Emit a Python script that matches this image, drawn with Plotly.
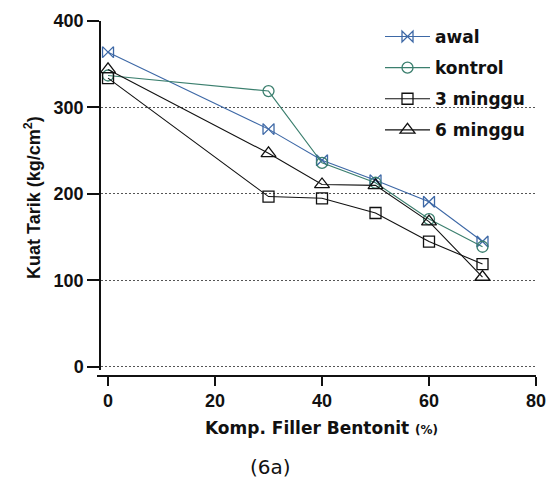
import plotly.graph_objects as go

# Bentonite filler composition (%)
filler = [0, 30, 40, 50, 60, 70]

# Tensile strength (kg/cm^2) per curing stage
awal = [364, 275, 239, 216, 191, 145]
kontrol = [337, 319, 236, 213, 171, 139]
minggu3 = [334, 197, 195, 178, 145, 119]
minggu6 = [344, 247, 211, 210, 168, 104]

series_names = ["awal", "kontrol", "3 minggu", "6 minggu"]
x_ticks = [0, 20, 40, 60, 80]
y_ticks = [0, 100, 200, 300, 400]

W, H = 547, 479
ML, MR, MT, MB = 97, 11, 21, 103
PW, PH = W - ML - MR, H - MT - MB


def px_x(px):
    return (px - ML) / PW


def px_y(py):
    return (H - MB - py) / PH


styles = [
    dict(color="#3d68a6", symbol="bowtie-open", size=11),
    dict(color="#3b7f6e", symbol="circle-open", size=11),
    dict(color="#111111", symbol="square-open", size=11),
    dict(color="#111111", symbol="triangle-up-open", size=13),
]

fig = go.Figure()
for name, vals, st in zip(series_names, [awal, kontrol, minggu3, minggu6], styles):
    fig.add_trace(go.Scatter(
        x=filler, y=vals, name=name, mode="lines+markers",
        legendgroup=name,
        line=dict(color=st["color"], width=1.1),
        marker=dict(symbol=st["symbol"], size=st["size"], color=st["color"],
                    line=dict(width=1.3, color=st["color"])),
    ))

tick_font = dict(family="Liberation Sans, Arial, sans-serif", size=18, color="#111111", weight="bold")

fig.update_layout(
    width=W, height=H,
    margin=dict(l=ML, r=MR, t=MT, b=MB, autoexpand=False),
    paper_bgcolor="white", plot_bgcolor="white",
    showlegend=True,
    legend=dict(
        x=px_x(380), y=px_y(19), xanchor="left", yanchor="top",
        bgcolor="rgba(0,0,0,0)",
        font=dict(family="DejaVu Sans, Verdana, sans-serif", size=17, color="#111111", weight="bold"),
        tracegroupgap=6, itemwidth=45,
    ),
    xaxis=dict(
        domain=[0, 1], range=[-2.06, 80],
        anchor="free", position=0, automargin=False,
        tickvals=x_ticks, ticks="outside", ticklen=9, tickwidth=1.5, tickcolor="#111111",
        showline=True, linecolor="#111111", linewidth=1.5,
        showgrid=False, zeroline=False,
        tickfont=tick_font,
    ),
    yaxis=dict(
        domain=[6 / PH, 1], range=[-3.5, 400],
        anchor="free", position=3 / PW, automargin=False,
        tickvals=y_ticks, ticks="outside", ticklen=12, tickwidth=1.5, tickcolor="#111111",
        showline=True, linecolor="#111111", linewidth=1.5,
        showgrid=True, gridcolor="#555555", gridwidth=1, griddash="2px,2px",
        zeroline=False,
        tickfont=tick_font,
    ),
    annotations=[
        dict(text="Kuat Tarik (kg/cm<sup>2</sup>)", textangle=-90,
             x=px_x(32), y=px_y(198), xref="paper", yref="paper",
             xanchor="center", yanchor="middle", showarrow=False,
             font=dict(family="Liberation Sans, Arial, sans-serif", size=18, color="#111111", weight="bold")),
        dict(text="Komp. Filler Bentonit <span style='font-size:12px'>(%)</span>",
             x=px_x(321), y=px_y(428), xref="paper", yref="paper",
             xanchor="center", yanchor="middle", showarrow=False,
             font=dict(family="DejaVu Sans, Verdana, sans-serif", size=17, color="#111111", weight="bold")),
        dict(text="(6a)",
             x=px_x(270), y=px_y(467), xref="paper", yref="paper",
             xanchor="center", yanchor="middle", showarrow=False,
             font=dict(family="DejaVu Sans, Arial, sans-serif", size=20, color="#111111")),
    ],
)

fig.write_html("out.html")
